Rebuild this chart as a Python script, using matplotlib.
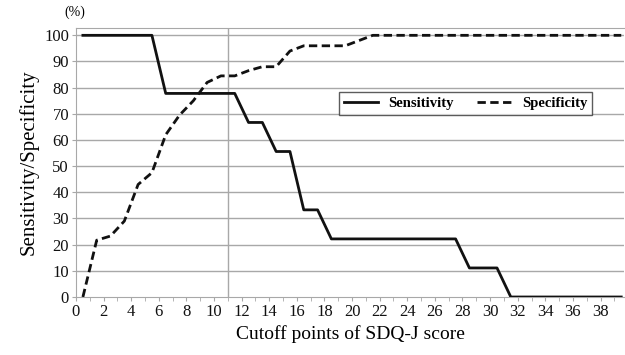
import numpy as np
import matplotlib
matplotlib.use("Agg")
import matplotlib.pyplot as plt

plt.rcParams['font.family'] = ['Liberation Serif', 'DejaVu Serif']

# cutoff points (plotted at category centres)
cutoffs = np.arange(0, 40) + 0.5

sensitivity = [100, 100, 100, 100, 100, 100,
               77.8, 77.8, 77.8, 77.8, 77.8, 77.8,
               66.7, 66.7, 55.6, 55.6, 33.3, 33.3,
               22.2, 22.2, 22.2, 22.2, 22.2, 22.2, 22.2, 22.2, 22.2, 22.2,
               11.1, 11.1, 11.1,
               0, 0, 0, 0, 0, 0, 0, 0, 0]

specificity = [0, 21.7, 23.3, 29, 43, 47.5, 62, 69.5, 75, 82,
               84.5, 84.5, 86.5, 88, 88, 94, 96, 96, 96, 96,
               98, 100, 100, 100, 100, 100, 100, 100, 100, 100,
               100, 100, 100, 100, 100, 100, 100, 100, 100, 100]

x_ticks = np.arange(0, 40, 2)
y_ticks = np.arange(0, 101, 10)

fig = plt.figure(figsize=(6.25, 3.55), dpi=100)
ax = fig.add_axes([76 / 625, 58 / 355, 548 / 625, 269 / 355])

grid_col = '#a8a8a8'
for y in y_ticks[1:]:
    ax.axhline(y, color=grid_col, lw=1, zorder=1)
ax.axvline(11, color=grid_col, lw=1, zorder=1)

ax.plot(cutoffs, sensitivity, color='#111111', lw=2, label='Sensitivity', zorder=3)
ax.plot(cutoffs, specificity, color='#111111', lw=2, dashes=(3, 1.6),
        label='Specificity', zorder=3)

ax.set_xlim(0, 39.7)
ax.set_ylim(0, 102.8)
ax.set_xticks(x_ticks)
ax.set_xticks(np.arange(0, 40, 1), minor=True)
ax.set_yticks(y_ticks)
ax.tick_params(axis='both', labelsize=12, color=grid_col, length=3,
               pad=2, labelcolor='#111111')
ax.tick_params(axis='x', which='minor', color=grid_col, length=3)

for side in ['left', 'top', 'right', 'bottom']:
    ax.spines[side].set_color(grid_col)
ax.spines['right'].set_visible(False)

ax.set_xlabel('Cutoff points of SDQ-J score', fontsize=14, labelpad=4)
ax.set_ylabel('Sensitivity/Specificity', fontsize=15, labelpad=4)
fig.text(0.12, 0.965, '(%)', fontsize=10, ha='center', va='center')

leg = ax.legend(loc='lower left', bbox_to_anchor=(263 / 548, 0.675), ncol=2,
                frameon=True, fancybox=False, handlelength=2.3,
                handletextpad=0.75, columnspacing=1.6, borderpad=0.35,
                borderaxespad=0, prop={'weight': 'bold', 'size': 10.5})
leg.get_frame().set_edgecolor('#333333')
leg.get_frame().set_linewidth(1)

fig.savefig('out.png', dpi=100)
